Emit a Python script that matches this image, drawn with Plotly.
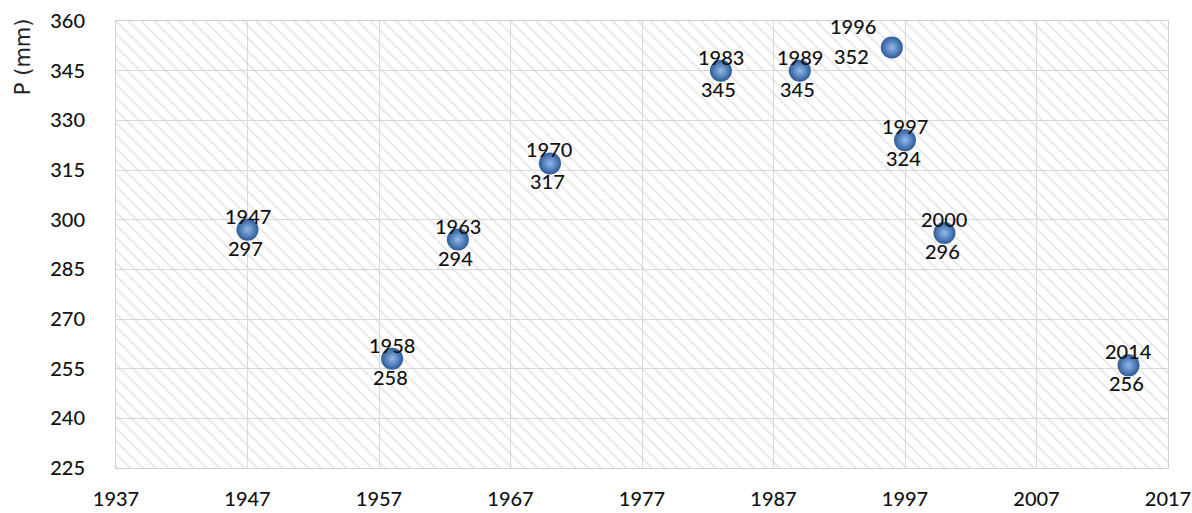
import plotly.graph_objects as go

# Annual precipitation of selected years
years = [1947, 1958, 1963, 1970, 1983, 1989, 1996, 1997, 2000, 2014]
precip = [297, 258, 294, 317, 345, 345, 352, 324, 296, 256]

x_range = [1937, 2017]
y_range = [225, 360]
x_ticks = list(range(1937, 2018, 10))
y_ticks = list(range(225, 361, 15))

FONT = "Lato"
TXT = "#111111"
FS = 20

fig = go.Figure()

# hatched plot background
fig.add_trace(go.Scatter(
    x=[x_range[0], x_range[1], x_range[1], x_range[0], x_range[0]],
    y=[y_range[0], y_range[0], y_range[1], y_range[1], y_range[0]],
    mode="lines", line=dict(width=0), fill="toself",
    fillcolor="rgba(0,0,0,0)",
    fillpattern=dict(shape="\\", fgcolor="#d2d2d2", bgcolor="rgba(0,0,0,0)",
                     size=9, solidity=0.22),
    hoverinfo="skip", showlegend=False,
))

fig.add_trace(go.Scatter(
    x=years, y=precip, mode="markers",
    marker=dict(size=22, color="#2c5b99",
                gradient=dict(type="radial", color="#93b9ea"),
                line=dict(width=0)),
    showlegend=False,
))

for yr, p in zip(years, precip):
    if yr == 1996:
        ys, vs, xs_y, xs_v = 21, -9, -39, -40
    else:
        ys, vs, xs_y, xs_v = 14, -18, 0, -2
    fig.add_annotation(x=yr, y=p, text=str(yr), showarrow=False,
                       xshift=xs_y, yshift=ys,
                       font=dict(family=FONT, size=FS, color=TXT, weight=500))
    fig.add_annotation(x=yr, y=p, text=str(p), showarrow=False,
                       xshift=xs_v, yshift=vs,
                       font=dict(family=FONT, size=FS, color=TXT, weight=500))

fig.add_annotation(xref="paper", yref="paper", x=-0.089, y=0.92,
                   xanchor="center", yanchor="middle",
                   text="P (mm)", textangle=-90, showarrow=False,
                   font=dict(family="DejaVu Sans", size=21, color="#222222"))

fig.update_layout(
    width=1192, height=513,
    margin=dict(l=116, r=24, t=21, b=45),
    paper_bgcolor="white", plot_bgcolor="white",
    font=dict(family=FONT, size=FS, color=TXT, weight=500),
    xaxis=dict(range=x_range, tickvals=x_ticks, showgrid=True,
               gridcolor="#d9d9d9", gridwidth=1, zeroline=False,
               showline=True, linecolor="#d0d0d0", mirror=True,
               ticks="", ticklabelstandoff=13, automargin=False),
    yaxis=dict(range=y_range, tickvals=y_ticks, showgrid=True,
               gridcolor="#d9d9d9", gridwidth=1, zeroline=False,
               showline=True, linecolor="#d0d0d0", mirror=True,
               ticks="", ticklabelstandoff=26, automargin=False),
)

fig.write_html("out.html")
